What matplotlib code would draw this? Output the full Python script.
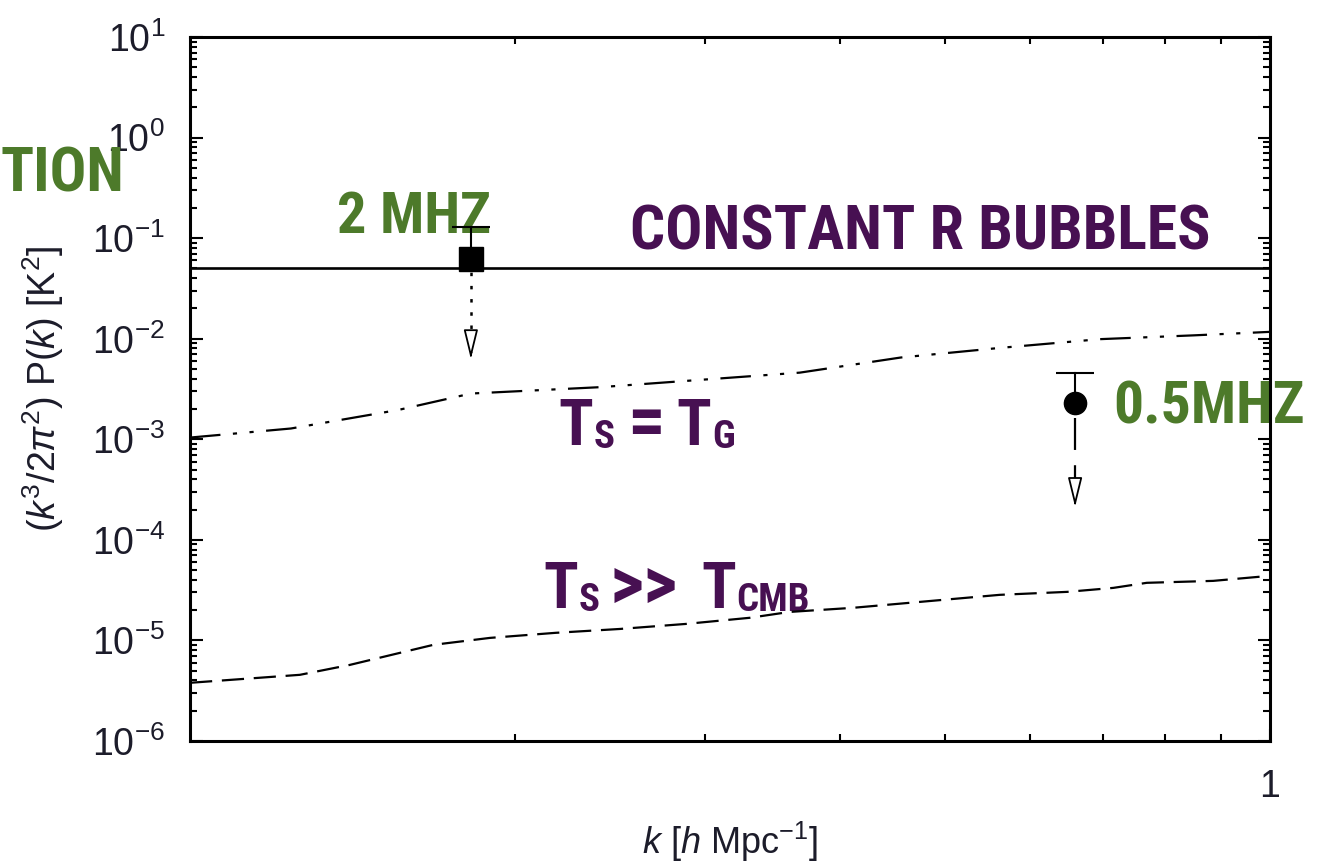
import numpy as np
import matplotlib
matplotlib.use("Agg")
import matplotlib.pyplot as plt
from matplotlib import font_manager
from matplotlib.font_manager import FontProperties
from matplotlib.ticker import LogLocator, NullFormatter, FixedLocator, FixedFormatter

# data
k_tg = [0.1, 0.124, 0.156, 0.182, 0.240, 0.297, 0.367, 0.455, 0.562, 0.696, 0.85, 1.0]
p_tg = [1.04e-3, 1.28e-3, 1.96e-3, 2.85e-3, 3.3e-3, 3.9e-3, 4.6e-3, 6.5e-3, 8.1e-3, 9.9e-3, 1.08e-2, 1.17e-2]

k_cmb = [0.1, 0.1264, 0.1406, 0.1565, 0.168, 0.1896, 0.218, 0.250, 0.288, 0.330,
         0.359, 0.411, 0.562, 0.649, 0.716, 0.769, 0.886, 1.0]
p_cmb = [3.79e-6, 4.55e-6, 5.71e-6, 7.53e-6, 9.04e-6, 1.06e-5, 1.19e-5, 1.30e-5, 1.46e-5, 1.68e-5,
         1.92e-5, 2.11e-5, 2.84e-5, 3.04e-5, 3.33e-5, 3.74e-5, 3.91e-5, 4.39e-5]

k_bubbles = [0.1, 1.0]
p_bubbles = [0.05, 0.05]

# upper limits: (k, point, cap, arrow tip)
lim_2mhz = (0.182, 0.062, 0.129, 5.9e-3)
lim_05mhz = (0.66, 2.3e-3, 4.57e-3, 2.0e-4)

GREEN = "#4d7a2a"
PURPLE = "#471052"


def pick_condensed():
    # look for a narrow / condensed bold face, best first
    wanted = ["liberationsansnarrow-bold", "robotocondensed-bold", "dejavusanscondensed-bold",
              "opensanscondensed-bold", "notosanscondensed-bold", "notosans-condensedbold",
              "opensans-condensedbold", "roboto-condensedbold"]
    files = {}
    for f in font_manager.fontManager.ttflist:
        key = f.fname.split("/")[-1].rsplit(".", 1)[0].lower()
        files[key] = f.fname
    for w in wanted:
        if w in files:
            return FontProperties(fname=files[w])
    for f in font_manager.fontManager.ttflist:
        n = f.fname.lower()
        if ("condensed" in n or "narrow" in n) and "bold" in n and "semi" not in n and "extra" not in n:
            return FontProperties(fname=f.fname)
    return FontProperties(family="Roboto", weight="bold")


BIG = pick_condensed()

plt.rcParams["font.family"] = ["Liberation Sans", "DejaVu Sans"]
plt.rcParams["mathtext.fontset"] = "custom"
plt.rcParams["mathtext.rm"] = "Liberation Sans"
plt.rcParams["mathtext.it"] = "Liberation Sans:italic"
plt.rcParams["mathtext.bf"] = "Liberation Sans:bold"
plt.rcParams["axes.unicode_minus"] = False
plt.rcParams["lines.scale_dashes"] = False

W, H = 1328, 868
fig = plt.figure(figsize=(W / 100, H / 100), dpi=100)
ax = fig.add_axes([190 / W, 1 - 741 / H, 1080 / W, 704 / H])
ax.set_xscale("log")
ax.set_yscale("log")
ax.set_xlim(0.1, 1.0)
ax.set_ylim(1e-6, 10)

ax.plot(k_bubbles, p_bubbles, color="black", lw=1.9, zorder=4)
ax.plot(k_tg, p_tg, color="black", lw=1.6, ls=(0, (22, 9, 3, 9, 3, 9)), zorder=4)
ax.plot(k_cmb, p_cmb, color="black", lw=1.6, ls=(0, (16, 7)), zorder=4)

arrow = dict(arrowstyle="-|>,head_length=0.9,head_width=0.22", mutation_scale=20,
             fc="white", ec="black", lw=1.3)

# 2 MHz upper limit (square, dotted arrow)
k, p, cap, tip = lim_2mhz
ax.plot([k, k], [p, cap], color="black", lw=1.5, zorder=5)
ax.plot([k], [cap], marker="_", ms=27, mew=1.5, color="black", zorder=5)
ax.plot([k], [p], marker="s", ms=17, color="black", zorder=6)
ax.plot([k, k], [p, tip * 1.25], color="black", lw=1.8, ls=(0, (2.5, 7)), zorder=4)
ax.annotate("", xy=(k, tip), xytext=(k, tip * 1.3), arrowprops=arrow, zorder=5)

# 0.5 MHz upper limit (circle, dashed arrow)
k, p, cap, tip = lim_05mhz
ax.plot([k, k], [p, cap], color="black", lw=1.5, zorder=5)
ax.plot([k], [cap], marker="_", ms=27, mew=1.5, color="black", zorder=5)
ax.plot([k], [p], marker="o", ms=16, color="black", zorder=6)
ax.plot([k, k], [p * 0.7, tip * 1.3], color="black", lw=1.6, ls=(0, (23, 11)), zorder=4)
ax.annotate("", xy=(k, tip), xytext=(k, tip * 1.3), arrowprops=arrow, zorder=5)

# axes styling
for s in ax.spines.values():
    s.set_linewidth(2.2)
    s.set_zorder(3)
ax.yaxis.set_major_locator(LogLocator(base=10, numticks=20))
ax.yaxis.set_minor_locator(LogLocator(base=10, subs=np.arange(2, 10), numticks=20))
ax.yaxis.set_minor_formatter(NullFormatter())
ax.xaxis.set_major_locator(FixedLocator([1.0]))
ax.xaxis.set_major_formatter(FixedFormatter(["1"]))
ax.xaxis.set_minor_locator(FixedLocator([0.2, 0.3, 0.4, 0.5, 0.6, 0.7, 0.8, 0.9]))
ax.xaxis.set_minor_formatter(NullFormatter())
ax.tick_params(which="both", direction="in", top=True, right=True, width=1.5,
               labelsize=27, labelcolor="#1c1c2a")
ax.tick_params(which="major", length=9)
ax.tick_params(which="minor", length=5)
ax.tick_params(axis="y", pad=18)
ax.tick_params(axis="x", pad=20)

ax.set_xlabel(r"$k$ [$h$ Mpc$^{-1}$]", fontsize=26, color="#1c1c2a")
ax.set_ylabel(r"$(k^3/2\pi^2)$ P($k$) [K$^2$]", fontsize=27, color="#1c1c2a")
ax.xaxis.set_label_coords(0.5, -0.112)
ax.yaxis.set_label_coords(-0.115, 0.5)

renderer = fig.canvas.get_renderer()


# overlay annotations, positioned in figure pixels
def put(x, y, s, size, color, z=1):
    fp = BIG.copy()
    fp.set_size(size)
    return ax.text(x / W, 1 - y / H, s, transform=fig.transFigure, fontproperties=fp,
                   color=color, va="baseline", ha="left", zorder=z, clip_on=False)


def chain(y, pieces, color):
    # each piece at its own x, but never on top of the one before
    prev = 0
    for x, s, size, dy in pieces:
        t = put(max(x, prev + 1), y + dy, s, size, color)
        prev = t.get_window_extent(renderer).x1


put(0, 192, "TION", 44, GREEN, z=6)
put(337, 233, "2 MHZ", 42, GREEN)
put(630, 250, "CONSTANT R BUBBLES", 44.5, PURPLE)
put(1113, 423, "0.5MHZ", 43, GREEN, z=2)

chain(445, [(558, "T", 46, 0), (588, "S", 28, 3), (627, "=", 54, 0),
            (676, "T", 46, 0), (708, "G", 28, 3)], PURPLE)
chain(608, [(543, "T", 46, 0), (572, "S", 28, 3), (609, ">>", 54, 0),
            (701, "T", 46, 0), (731, "CMB", 28, 3)], PURPLE)

fig.savefig("out.png", dpi=100)
